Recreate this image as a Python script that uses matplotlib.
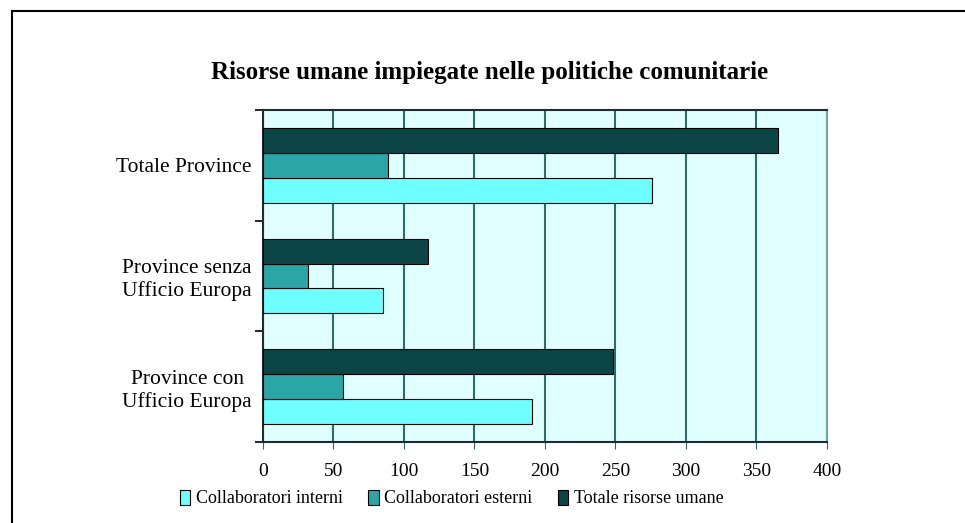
import matplotlib.pyplot as plt
import numpy as np
from matplotlib.patches import Patch
from matplotlib.lines import Line2D

# data, bottom to top
categories = ['Province con\nUfficio Europa', 'Province senza\nUfficio Europa', 'Totale Province']
interni = [191, 85, 276]
esterni = [57, 32, 89]
totale = [248, 117, 365]
series_names = ['Collaboratori interni', 'Collaboratori esterni', 'Totale risorse umane']
colors = ['#6EFFFF', '#2AA6A6', '#0B4545']

plt.rcParams['font.family'] = ['Liberation Serif', 'DejaVu Serif']

fig = plt.figure(figsize=(9.65, 5.23), dpi=100)
ax = fig.add_axes([0.2725, 0.1549, 0.5845, 0.6348])
ax.set_facecolor('#E0FFFF')

y = np.arange(len(categories))
h = 0.225
for vals, off, c, name in zip([interni, esterni, totale], [-h, 0, h], colors, series_names):
    ax.barh(y + off, vals, height=h, color=c, edgecolor='black', linewidth=0.8,
            label=name, zorder=3)

ax.set_xlim(0, 400)
ax.set_ylim(-0.5, 2.5)
ax.set_xticks(np.arange(0, 401, 50))
ax.grid(axis='x', color='#2F6B6B', linewidth=1.5, zorder=1)
ax.tick_params(axis='x', labelsize=14, length=5, color='#2F6B6B', pad=10)

ax.set_yticks(y)
ax.set_yticklabels(categories, fontsize=15.5, multialignment='center')
ax.tick_params(axis='y', length=0, pad=8)
ax.set_yticks([-0.5, 0.5, 1.5, 2.5], minor=True)
ax.tick_params(axis='y', which='minor', length=6, width=1.2, color='black')

for s in ['top', 'bottom', 'left']:
    ax.spines[s].set_color('#1E2E2E')
    ax.spines[s].set_linewidth(1.5)
ax.spines['right'].set_color('#6FA5A5')
ax.spines['right'].set_linewidth(1.5)

fig.text(0.507, 0.862, 'Risorse umane impiegate nelle politiche comunitarie',
         ha='center', va='center', fontsize=18, fontweight='bold')

handles = [Patch(facecolor=c, edgecolor='black', linewidth=0.8) for c in colors]
fig.legend(handles, series_names, loc='center', bbox_to_anchor=(0.468, 0.047), ncol=3,
           frameon=False, fontsize=13, handlelength=0.6, handleheight=0.9,
           handletextpad=0.3, columnspacing=1.4)

# outer frame (top and left edges)
fig.add_artist(Line2D([12 / 965, 1.0], [1 - 11 / 523, 1 - 11 / 523], color='black', linewidth=1.5))
fig.add_artist(Line2D([12 / 965, 12 / 965], [0.0, 1 - 11 / 523], color='black', linewidth=1.5))

fig.savefig('out.png', dpi=100)
